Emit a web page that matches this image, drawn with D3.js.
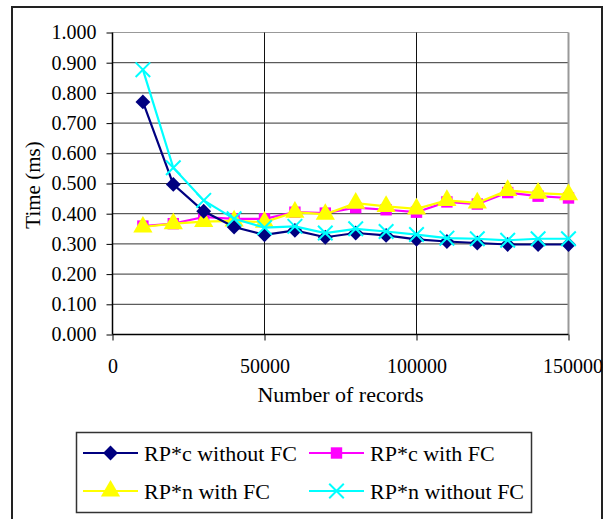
<!DOCTYPE html>
<html>
<head>
<meta charset="utf-8">
<script src="https://cdn.jsdelivr.net/npm/d3@7"></script>
<style>
  body { margin: 0; background: #fff; }
  svg { display: block; font-family: "Liberation Serif", "Times New Roman", serif; }
</style>
</head>
<body>
<div id="chart"></div>
<script>
// data
var records = [10000, 20000, 30000, 40000, 50000, 60000, 70000, 80000, 90000, 100000, 110000, 120000, 130000, 140000, 150000];
var rpcWithout = [0.770, 0.497, 0.408, 0.356, 0.330, 0.345, 0.322, 0.336, 0.328, 0.315, 0.308, 0.303, 0.298, 0.298, 0.298];
var rpcWith    = [0.359, 0.367, 0.389, 0.383, 0.383, 0.405, 0.402, 0.420, 0.413, 0.405, 0.439, 0.432, 0.470, 0.458, 0.452];
var rpnWith    = [0.356, 0.367, 0.374, 0.376, 0.372, 0.405, 0.398, 0.435, 0.424, 0.416, 0.444, 0.436, 0.477, 0.468, 0.463];
var rpnWithout = [0.877, 0.552, 0.444, 0.383, 0.354, 0.358, 0.336, 0.350, 0.341, 0.331, 0.319, 0.317, 0.312, 0.317, 0.317];
var xTicks = [0, 50000, 100000, 150000];
var yTicks = [0, 0.1, 0.2, 0.3, 0.4, 0.5, 0.6, 0.7, 0.8, 0.9, 1.0];

var series = [
  {name: "RP*c without FC", values: rpcWithout, color: "#000080", symbol: d3.symbolDiamond2},
  {name: "RP*c with FC",    values: rpcWith,    color: "#ff00ff", symbol: d3.symbolSquare},
  {name: "RP*n with FC",    values: rpnWith,    color: "#ffff00", symbol: d3.symbolTriangle},
  {name: "RP*n without FC", values: rpnWithout, color: "#00ffff", symbol: d3.symbolX}
];
// draw order: navy and cyan go on top, like the original
var drawOrder = [1, 2, 0, 3];

var W = 610, H = 519;
var svg = d3.select("#chart").append("svg").attr("width", W).attr("height", H);

// outer frame
svg.append("rect")
  .attr("x", 12).attr("y", 7).attr("width", 590).attr("height", 530)
  .attr("fill", "none").attr("stroke", "#222").attr("stroke-width", 2);

var pLeft = 112.5, pRight = 568.5, pTop = 32.5, pBottom = 334.5;
var x = d3.scaleLinear().domain([0, 150000]).range([pLeft, pRight]);
var y = d3.scaleLinear().domain([0, 1]).range([pBottom, pTop]);

// gridlines
svg.append("g").selectAll("line").data(yTicks.slice(1)).enter().append("line")
  .attr("x1", pLeft).attr("x2", pRight)
  .attr("y1", function(d){ return y(d); }).attr("y2", function(d){ return y(d); })
  .attr("stroke", function(d){ return d === 1 ? "#999" : "#333"; })
  .attr("stroke-width", 1);
svg.append("g").selectAll("line").data(xTicks.slice(1)).enter().append("line")
  .attr("y1", pTop).attr("y2", pBottom)
  .attr("x1", function(d){ return x(d); }).attr("x2", function(d){ return x(d); })
  .attr("stroke", function(d){ return d === 150000 ? "#999" : "#111"; })
  .attr("stroke-width", function(d){ return d === 150000 ? 2 : 1; });

// axes
var yAxis = svg.append("g")
  .attr("transform", "translate(" + pLeft + ",0)")
  .call(d3.axisLeft(y).tickValues(yTicks).tickFormat(d3.format(".3f")).tickSize(6).tickPadding(10));
var xAxis = svg.append("g")
  .attr("transform", "translate(0," + pBottom + ")")
  .call(d3.axisBottom(x).tickValues(xTicks).tickFormat(d3.format("d")).tickSize(6).tickPadding(18));
[yAxis, xAxis].forEach(function(a) {
  a.select(".domain").attr("stroke", "#000").attr("stroke-width", 1.5);
  a.selectAll(".tick line").attr("stroke", "#000");
  a.selectAll(".tick text").attr("fill", "#000").style("font-size", "20px")
   .style("font-family", "'Liberation Serif', serif");
});
xAxis.select(".domain").attr("d", "M" + pLeft + ",0H" + pRight);
yAxis.select(".domain").attr("d", "M0," + pBottom + "V" + pTop);
xAxis.selectAll(".tick text").filter(function(d){ return d === 150000; }).attr("dx", 4);

// axis titles
svg.append("text").attr("x", (pLeft + pRight) / 2).attr("y", 402)
  .attr("text-anchor", "middle").attr("font-size", "22px").attr("fill", "#000")
  .text("Number of records");
svg.append("text").attr("transform", "translate(40,185) rotate(-90)")
  .attr("text-anchor", "middle").attr("font-size", "21px").attr("fill", "#000")
  .text("Time (ms)");

// lines and markers
var line = d3.line()
  .x(function(d, i){ return x(records[i]); })
  .y(function(d){ return y(d); });

function marker(sel, s, size) {
  var sym = d3.symbol().type(s.symbol).size(size);
  sel.attr("d", sym)
    .attr("fill", s.symbol === d3.symbolX ? "none" : s.color)
    .attr("stroke", s.color)
    .attr("stroke-width", s.symbol === d3.symbolX ? 2 : 0);
}
var sizes = [140, 130, 160, 140];

drawOrder.forEach(function(k) {
  var s = series[k];
  svg.append("path").datum(s.values)
    .attr("d", line).attr("fill", "none")
    .attr("stroke", s.color).attr("stroke-width", 2.2);
  svg.append("g").selectAll("path").data(s.values).enter().append("path")
    .attr("transform", function(d, i){ return "translate(" + x(records[i]) + "," + y(d) + ")"; })
    .call(marker, s, sizes[k]);
});

// legend
var legend = svg.append("g");
legend.append("rect").attr("x", 76.5).attr("y", 432.5).attr("width", 455).attr("height", 80)
  .attr("fill", "#fff").attr("stroke", "#333").attr("stroke-width", 1.5);
var legPos = [[83, 453], [309, 453], [83, 491], [309, 491]];
series.forEach(function(s, k) {
  var p = legPos[k];
  var g = legend.append("g").attr("transform", "translate(" + p[0] + "," + p[1] + ")");
  g.append("line").attr("x1", 0).attr("x2", 55).attr("stroke", s.color).attr("stroke-width", 2);
  g.append("path").attr("transform", "translate(27.5,0)").call(marker, s, sizes[k]);
  g.append("text").attr("x", 61).attr("y", 0).attr("dy", "0.35em")
    .attr("font-size", "22px").attr("fill", "#000").text(s.name);
});
</script>
</body>
</html>
